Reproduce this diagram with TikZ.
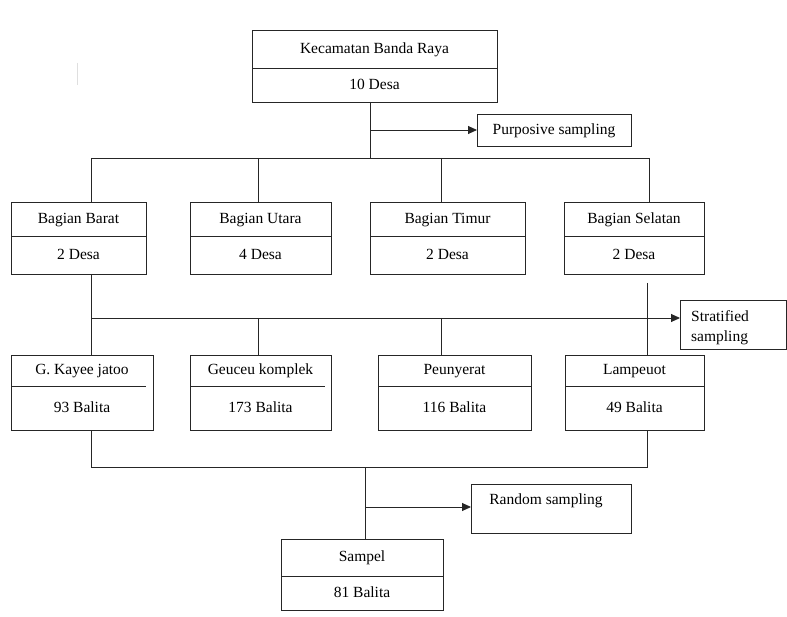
\documentclass[tikz,border=0pt]{standalone}
\usepackage{fontspec}
\setmainfont{Liberation Serif}
\usetikzlibrary{arrows.meta}
\tikzset{
  boxshape/.style={draw=black!85, line width=0.9pt, rectangle, inner sep=0pt, outer sep=0pt},
  lbl/.style={inner sep=0pt, font=\fontsize{15.5pt}{18pt}\selectfont, text height=0.66em, text depth=0.22em},
  lblfree/.style={inner sep=0pt, font=\fontsize{15.5pt}{18pt}\selectfont},
  conn/.style={draw=black!85, line width=0.9pt},
  arr/.style={conn, -{Triangle[length=9pt,width=8pt]}},
  divline/.style={draw=black!85, line width=0.9pt}
}
\newcommand\twobox[8]{%
  \node[boxshape, minimum width={(#4-#2)*1pt}, minimum height={(#5-#3)*1pt}] (#1) at ({(#2+#4)/2},{(#3+#5)/2}) {};
  \node[lbl] (#1-a) at ({(#2+#4)/2},{(#3+#6)/2+2}) {#7};
  \node[lbl] (#1-b) at ({(#2+#4)/2},{(#6+#5)/2+2}) {#8};
}
\begin{document}
\begin{tikzpicture}[x=1pt,y=-1pt]
\useasboundingbox (0,0) rectangle (787,617);
% stray faint mark
\draw[gray!25, line width=0.8pt] (77,63) -- (77,85);

\twobox{top}{252}{30}{497}{102}{68}{Kecamatan Banda Raya}{10 Desa}
\draw[divline] (252,68) -- (497,68);

\node[boxshape, minimum width=154pt, minimum height=32pt] (purp) at (554,130) {};
\node[lbl] (purp-t) at (554,132) {Purposive sampling};

\twobox{barat}{11}{202}{146}{274}{236}{Bagian Barat}{2 Desa}
\twobox{utara}{190}{202}{331}{274}{236}{Bagian Utara}{4 Desa}
\twobox{timur}{370}{202}{525}{274}{236}{Bagian Timur}{2 Desa}
\twobox{selatan}{564}{202}{704}{274}{236}{Bagian Selatan}{2 Desa}
\draw[divline] (11,236) -- (146,236);
\draw[divline] (190,236) -- (331,236);
\draw[divline] (370,236) -- (525,236);
\draw[divline] (564,236) -- (704,236);

\node[boxshape, minimum width=106pt, minimum height=49pt] (strat) at (733,324.5) {};
\node[lblfree, align=left, anchor=west] (strat-t) at (691,328) {Stratified\\[2pt]sampling};

\twobox{kayee}{11}{355}{153}{430}{386}{G. Kayee jatoo}{93 Balita}
\twobox{geuceu}{190}{355}{331}{430}{386}{Geuceu komplek}{173 Balita}
\twobox{peun}{378}{355}{531}{430}{386}{Peunyerat}{116 Balita}
\twobox{lamp}{565}{355}{704}{430}{386}{Lampeuot}{49 Balita}
\draw[divline] (11,386) -- (146,386);
\draw[divline] (190,386) -- (325,386);
\draw[divline] (378,386) -- (531,386);
\draw[divline] (565,386) -- (704,386);

\node[boxshape, minimum width=160pt, minimum height=49pt] (rand) at (551,508.5) {};
\node[lbl] (rand-t) at (546,502) {Random sampling};

\twobox{sampel}{281}{539}{443}{610}{576}{Sampel}{81 Balita}
\draw[divline] (281,576) -- (443,576);

% connectors level 1
\coordinate (bM) at (370,158);
\coordinate (j1) at (370,130);
\coordinate (bL) at (91,158);
\coordinate (bU) at (258,158);
\coordinate (bT) at (441,158);
\coordinate (bR) at (649,158);
\draw[conn] (top.south -| bM) -- (bM);
\draw[arr] (j1) -- (purp.west |- j1);
\draw[conn] (bL) -- (bR);
\draw[conn] (bL) -- (barat.north -| bL);
\draw[conn] (bU) -- (utara.north -| bU);
\draw[conn] (bT) -- (timur.north -| bT);
\draw[conn] (bR) -- (selatan.north -| bR);

% connectors level 2
\coordinate (s1) at (91,318);
\coordinate (s2) at (258,318);
\coordinate (s3) at (441,318);
\coordinate (sel1) at (647,283);
\draw[conn] (barat.south -| s1) -- (s1);
\draw[arr] (s1) -- (strat.west |- s1);
\draw[conn] (s1) -- (kayee.north -| s1);
\draw[conn] (s2) -- (geuceu.north -| s2);
\draw[conn] (s3) -- (peun.north -| s3);
\draw[conn] (sel1) -- (lamp.north -| sel1);

% connectors level 3
\coordinate (t1) at (91,467);
\coordinate (t2) at (647,467);
\coordinate (tm) at (365,467);
\coordinate (tj) at (365,507);
\draw[conn] (kayee.south -| t1) -- (t1) -- (t2) -- (lamp.south -| t2);
\draw[conn] (tm) -- (sampel.north -| tm);
\draw[arr] (tj) -- (rand.west |- tj);
\end{tikzpicture}
\end{document}
